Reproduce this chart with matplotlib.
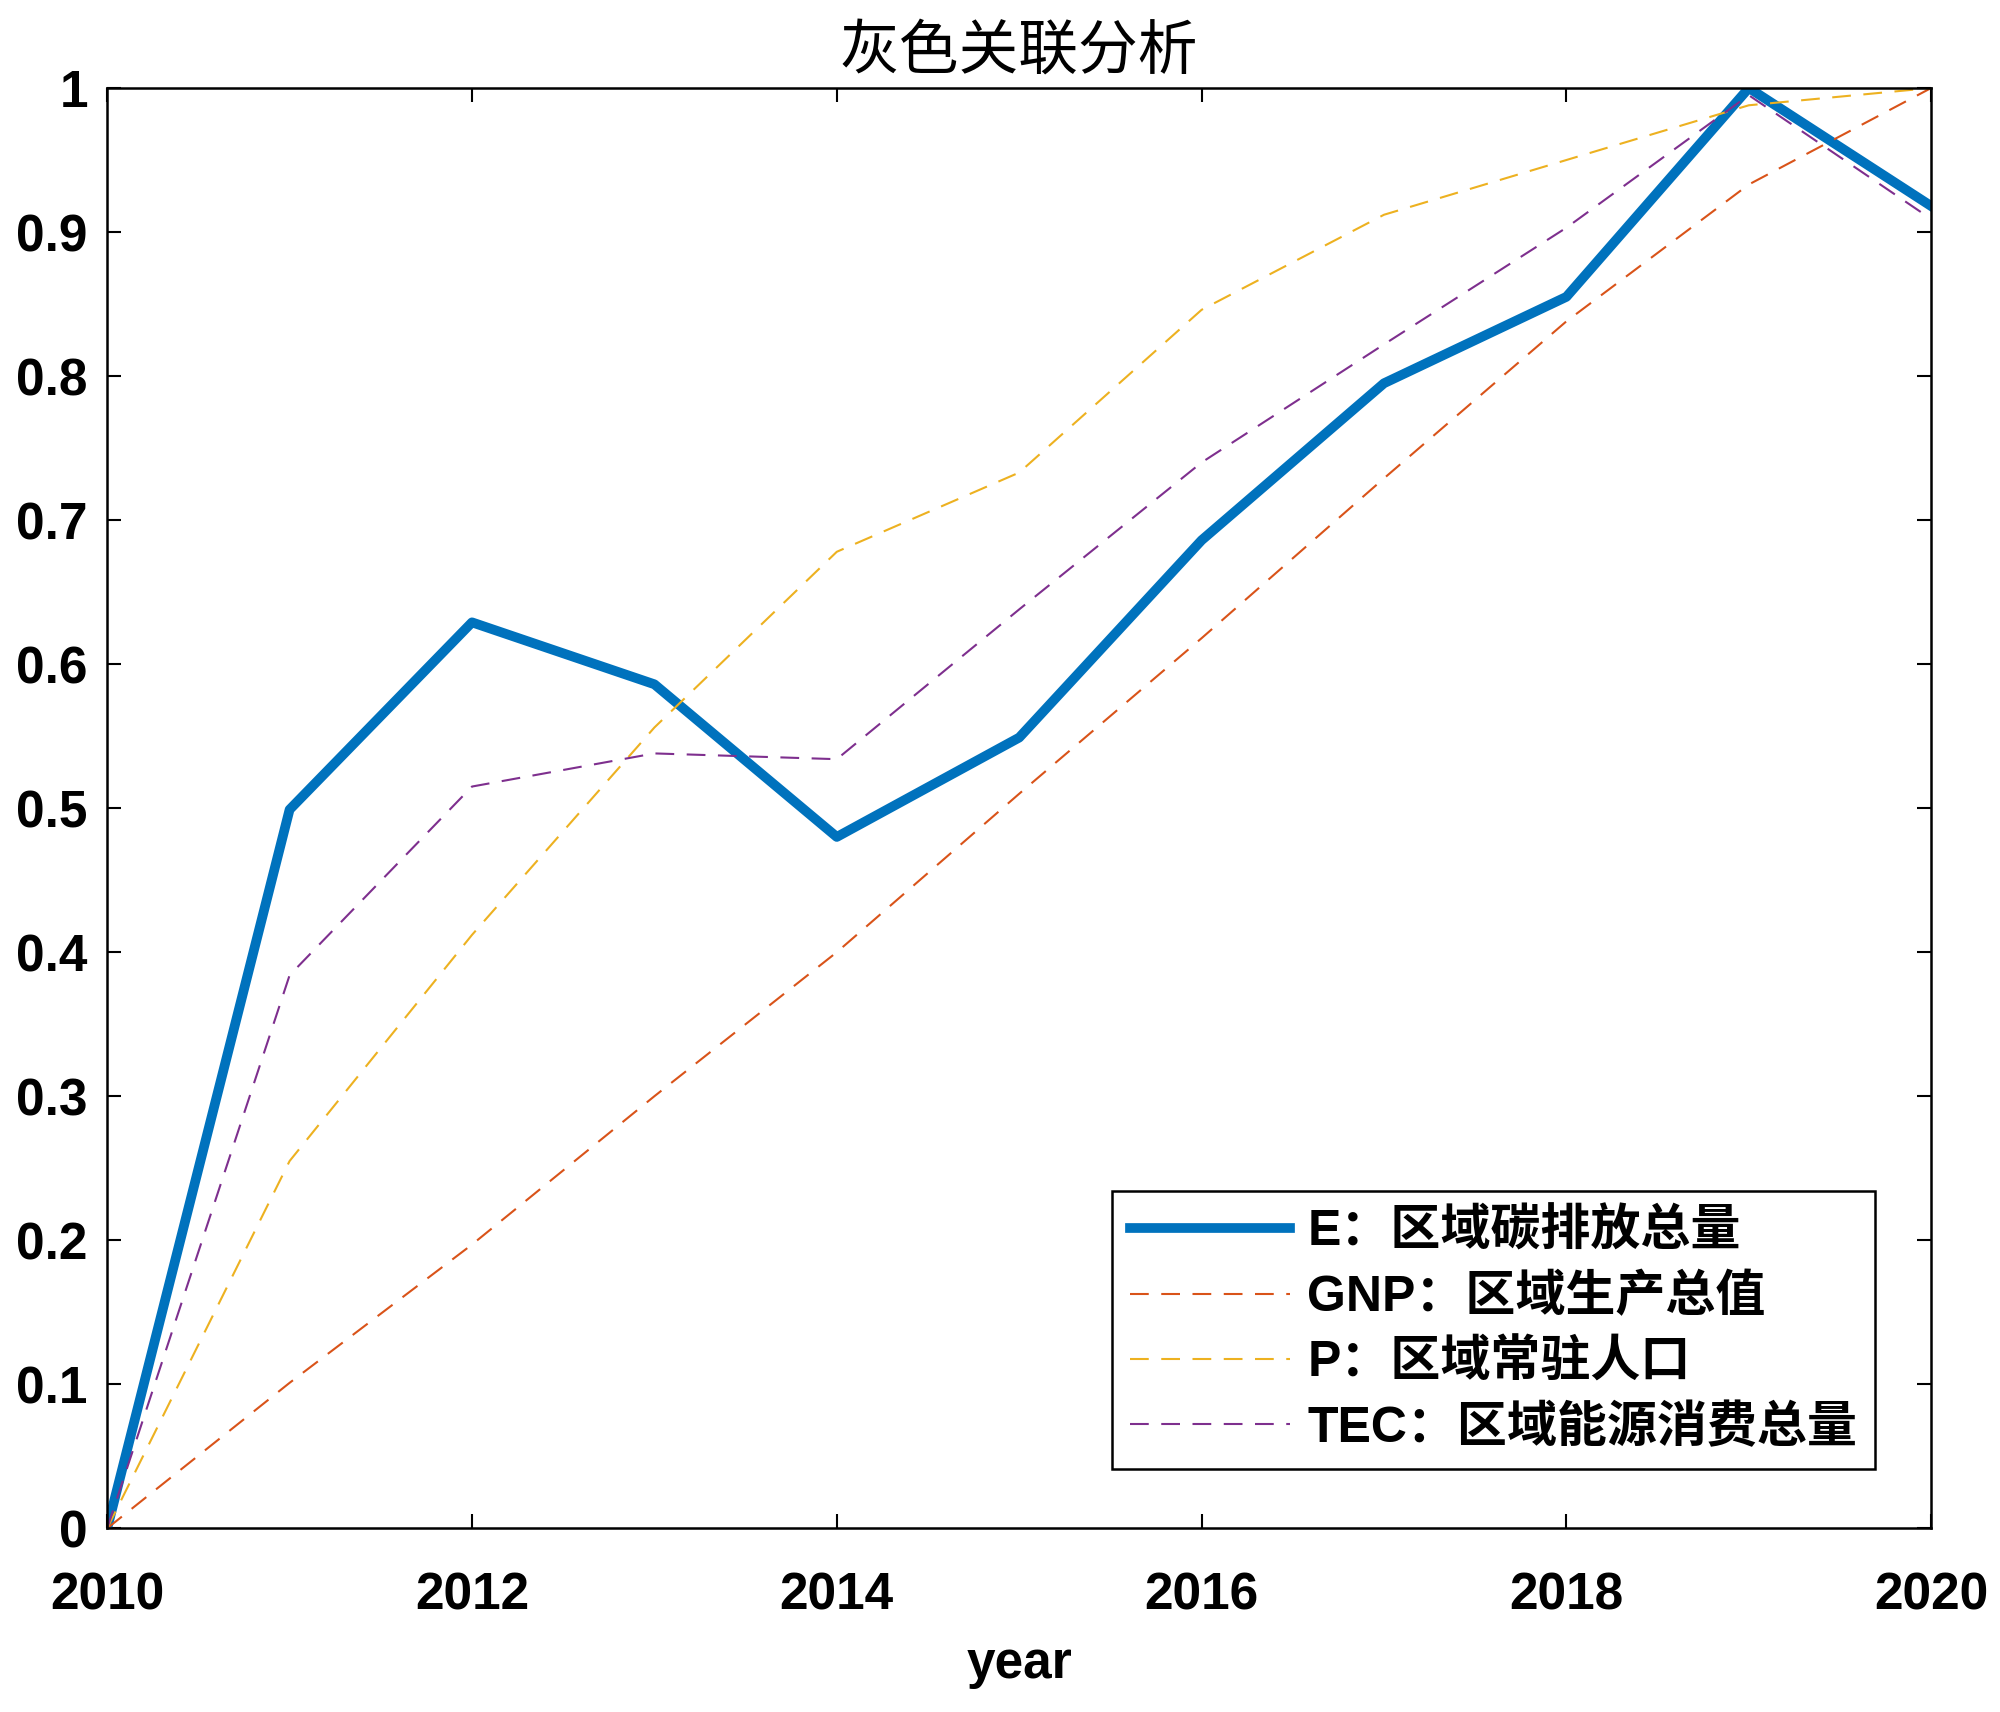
import matplotlib
matplotlib.use("Agg")
import matplotlib.pyplot as plt
import numpy as np

years = [2010, 2011, 2012, 2013, 2014, 2015, 2016, 2017, 2018, 2019, 2020]
e_carbon = [0.0, 0.499, 0.629, 0.586, 0.480, 0.549, 0.686, 0.795, 0.855, 1.0, 0.918]
gnp = [0.0, 0.101, 0.197, 0.300, 0.400, 0.510, 0.618, 0.729, 0.838, 0.933, 1.0]
pop = [0.0, 0.255, 0.412, 0.556, 0.678, 0.733, 0.846, 0.912, 0.950, 0.988, 1.0]
tec = [0.0, 0.384, 0.515, 0.538, 0.534, 0.638, 0.740, 0.822, 0.903, 0.995, 0.909]

labels = ["E：区域碳排放总量", "GNP：区域生产总值", "P：区域常驻人口", "TEC：区域能源消费总量"]
xticks = [2010, 2012, 2014, 2016, 2018, 2020]
yticks = [0, 0.1, 0.2, 0.3, 0.4, 0.5, 0.6, 0.7, 0.8, 0.9, 1.0]
ytick_labels = ["0", "0.1", "0.2", "0.3", "0.4", "0.5", "0.6", "0.7", "0.8", "0.9", "1"]

FAM = ["Liberation Sans", "Noto Sans CJK SC", "DejaVu Sans"]
plt.rcParams["font.family"] = FAM

fig = plt.figure(figsize=(20, 17.12), dpi=100)
ax = fig.add_axes([0.0536, 0.1073, 0.912, 0.8413])

ax.plot(years, e_carbon, "-", color="#0072BD", lw=7, label=labels[0])
ax.plot(years, gnp, "--", color="#D95319", lw=1.5, dashes=(9, 6), label=labels[1])
ax.plot(years, pop, "--", color="#EDB120", lw=1.5, dashes=(9, 6), label=labels[2])
ax.plot(years, tec, "--", color="#7E2F8E", lw=1.5, dashes=(9, 6), label=labels[3])

ax.set_xlim(2010, 2020)
ax.set_ylim(0, 1)
ax.set_xticks(xticks)
ax.set_yticks(yticks)
ax.set_yticklabels(ytick_labels)
ax.tick_params(direction="in", length=10, width=1.5, top=True, right=True,
               labelsize=37)
ax.tick_params(axis="x", pad=31)
ax.tick_params(axis="y", pad=14)
for lab in ax.get_xticklabels() + ax.get_yticklabels():
    lab.set_fontweight("bold")
for sp in ax.spines.values():
    sp.set_linewidth(1.8)

ax.set_xlabel("year", fontsize=37, fontweight="bold", labelpad=14)
ax.set_title("灰色关联分析", fontsize=43, family=["Noto Sans CJK SC"], pad=14)

leg = ax.legend(loc="lower right", bbox_to_anchor=(0.969, 0.041), borderaxespad=0,
                fancybox=False, edgecolor="black", framealpha=1,
                prop={"family": FAM, "size": 36, "weight": "bold"},
                handlelength=3.2, labelspacing=0.36, borderpad=0.35, handletextpad=0.35)
leg.get_frame().set_linewidth(1.8)

fig.savefig("out.png", dpi=100)
